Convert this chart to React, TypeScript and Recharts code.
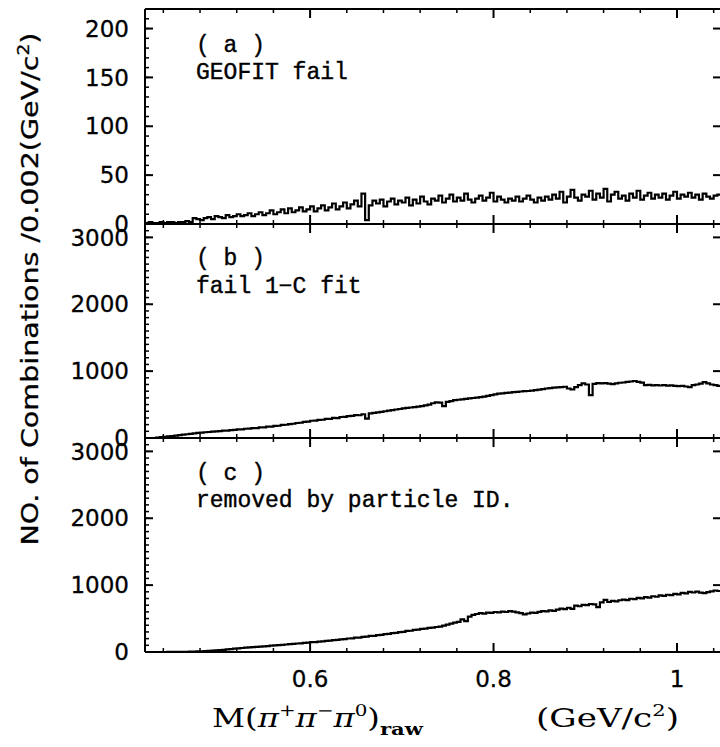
import React from 'react';
import { LineChart, Line, XAxis, YAxis } from 'recharts';

// histogram bins: 0.004 GeV/c^2 wide, left edges from 0.420
const BIN_START = 0.42;
const BIN_WIDTH = 0.004;
const X_DOMAIN: [number, number] = [0.42, 1.048];
const X_MAJOR = [0.6, 0.8, 1];
const X_MINOR = [0.44, 0.48, 0.52, 0.56, 0.64, 0.68, 0.72, 0.76, 0.84, 0.88, 0.92, 0.96, 1.04];

const TICKS_A = [0, 50, 100, 150, 200];
const TICKS_BC = [0, 1000, 2000, 3000];

// (a) GEOFIT fail
const GEOFIT_FAIL = [
  1, 2, 1, 1, 2, 1, 2, 2, 1, 2,
  2, 3, 2, 6, 5, 4, 6, 7, 5, 8,
  7, 6, 9, 7, 8, 10, 8, 9, 11, 8,
  10, 12, 9, 11, 14, 10, 12, 15, 11, 16,
  12, 14, 17, 13, 15, 18, 13, 16, 19, 14,
  17, 21, 15, 18, 22, 16, 20, 24, 18, 31,
  4, 19, 24, 21, 25, 18, 23, 26, 20, 24,
  22, 27, 19, 25, 21, 28, 23, 20, 26, 24,
  29, 22, 26, 30, 23, 27, 24, 31, 25, 22,
  26, 29, 24, 27, 32, 23, 28, 25, 22, 26,
  24, 28, 23, 26, 29, 25, 22, 27, 24, 28,
  25, 30, 26, 33, 22, 28, 35, 27, 24, 30,
  28, 34, 25, 31, 27, 36, 23, 30, 33, 26,
  29, 24, 31, 27, 34, 25, 29, 32, 26, 30,
  27, 31, 25, 29, 33, 26, 30, 28, 32, 27,
  30, 25, 31, 28, 26, 29, 30,
];

// (b) fail 1-C fit
const FAIL_1C_FIT = [
  0, 0, 0, 6, 12, 18, 25, 30, 37, 44,
  50, 56, 63, 70, 76, 80, 86, 90, 95, 99,
  104, 110, 111, 119, 121, 130, 129, 138, 139, 148,
  149, 158, 158, 170, 170, 182, 183, 195, 198, 208,
  213, 224, 228, 240, 246, 258, 260, 270, 273, 285,
  287, 300, 298, 314, 315, 328, 330, 342, 340, 355,
  290, 368, 376, 384, 392, 400, 408, 418, 426, 434,
  442, 450, 456, 462, 470, 478, 488, 498, 520, 532,
  530, 478, 540, 552, 565, 572, 578, 585, 592, 598,
  605, 612, 620, 630, 640, 652, 665, 668, 675, 680,
  686, 690, 695, 700, 703, 708, 715, 722, 730, 740,
  745, 752, 758, 762, 766, 740, 725, 760, 790, 818,
  800, 640, 810, 822, 816, 820, 812, 805, 818, 826,
  830, 838, 845, 852, 840, 828, 792, 795, 788, 792,
  785, 790, 782, 788, 780, 775, 778, 770, 760, 790,
  800, 812, 835, 818, 800, 790, 780,
];

// (c) removed by particle ID
const REMOVED_PID = [
  0, 0, 0, 0, 0, 0, 1, 1, 2, 2,
  3, 4, 5, 7, 9, 11, 14, 17, 20, 24,
  28, 33, 38, 44, 50, 55, 60, 64, 68, 72,
  76, 80, 85, 89, 94, 98, 103, 108, 112, 117,
  121, 127, 130, 137, 140, 147, 149, 156, 159, 167,
  170, 178, 181, 190, 192, 202, 204, 214, 216, 227,
  229, 240, 242, 252, 256, 268, 270, 283, 286, 298,
  302, 315, 318, 330, 334, 347, 350, 362, 364, 374,
  380, 395, 410, 425, 438, 450, 488, 462, 530, 555,
  568, 580, 574, 590, 584, 598, 592, 604, 598, 612,
  604, 592, 580, 562, 576, 590, 586, 600, 612, 606,
  622, 616, 634, 648, 640, 662, 644, 692, 684, 706,
  700, 718, 712, 670, 742, 778, 748, 764, 758, 774,
  782, 776, 796, 790, 808, 802, 820, 814, 834, 826,
  846, 838, 856, 850, 868, 862, 884, 876, 898, 890,
  904, 888, 880, 896, 908, 920, 912,
];

const minorTicks = (step: number, max: number) => {
  const out: number[] = [];
  for (let v = step; v <= max; v += step) out.push(v);
  return out;
};

// stepAfter needs one extra point at the right edge of the last bin
const toSteps = (values: number[]) => {
  const pts = values.map((n, i) => ({ m: +(BIN_START + i * BIN_WIDTH).toFixed(3), n }));
  pts.push({ m: +(BIN_START + values.length * BIN_WIDTH).toFixed(3), n: values[values.length - 1] });
  return pts;
};

const INK = '#000';
const TICK_FONT = { fontSize: 23, fontFamily: 'DejaVu Sans', fill: INK, stroke: INK, strokeWidth: 0.3 };
const FRAME = { stroke: INK, strokeWidth: 2 };
const THIN = 0.01; // mirrored axes take no layout room, but need a size > 0 to render

// inward tick mark drawn at the axis' own tick position (tickSize/tickMargin 0 puts x,y on the frame)
const mark = (side: 'top' | 'bottom' | 'left' | 'right', len: number, w: number) => (props: any) => {
  const { x, y } = props;
  const dx = side === 'left' ? len : side === 'right' ? -len : 0;
  const dy = side === 'top' ? len : side === 'bottom' ? -len : 0;
  return <line x1={x} y1={y} x2={x + dx} y2={y + dy} stroke={INK} strokeWidth={w} />;
};

interface PanelProps {
  values: number[];
  top: number;
  plotH: number;
  yMax: number;
  yTicks: number[];
  yMinor: number[];
  showX?: boolean;
}

const Panel: React.FC<PanelProps> = ({ values, top, plotH, yMax, yTicks, yMinor, showX }) => {
  const data = toSteps(values);
  const height = 10 + plotH + (showX ? 90 : 10);
  const yDomain: [number, number] = [0, yMax];
  const xProps = { dataKey: 'm', type: 'number' as const, domain: X_DOMAIN, allowDataOverflow: true, interval: 0 as const };
  const yProps = { type: 'number' as const, domain: yDomain, allowDataOverflow: true, interval: 0 as const };
  const markProps = { mirror: true, tickSize: 0, tickMargin: 0, tickLine: false };
  return (
    <div style={{ position: 'absolute', left: 0, top: top - 10 }}>
      <LineChart width={730} height={height} data={data}
        margin={{ top: 10, right: 9, bottom: showX ? 0 : 10, left: 0 }}>
        {/* frame + inward tick marks */}
        <XAxis xAxisId="b" {...xProps} {...markProps} height={THIN} ticks={X_MAJOR}
          tick={mark('bottom', 9, 2)} axisLine={FRAME} />
        <XAxis xAxisId="bm" {...xProps} {...markProps} height={THIN} ticks={X_MINOR}
          tick={mark('bottom', 4, 1.5)} axisLine={false} />
        <XAxis xAxisId="t" {...xProps} {...markProps} orientation="top" height={THIN} ticks={X_MAJOR}
          tick={mark('top', 9, 2)} axisLine={FRAME} />
        <XAxis xAxisId="tm" {...xProps} {...markProps} orientation="top" height={THIN} ticks={X_MINOR}
          tick={mark('top', 4, 1.5)} axisLine={false} />
        <YAxis yAxisId="l" {...yProps} {...markProps} width={THIN} ticks={yTicks}
          tick={mark('left', 8, 2)} axisLine={FRAME} />
        <YAxis yAxisId="lm" {...yProps} {...markProps} width={THIN} ticks={yMinor}
          tick={mark('left', 4, 1.5)} axisLine={false} />
        <YAxis yAxisId="r" {...yProps} {...markProps} orientation="right" width={THIN} ticks={yTicks}
          tick={mark('right', 8, 2)} axisLine={FRAME} />
        {/* tick labels */}
        <YAxis yAxisId="ll" {...yProps} width={145} ticks={yTicks} tickSize={0} tickMargin={16}
          tick={TICK_FONT} tickLine={false} axisLine={false} />
        {showX && (
          <XAxis xAxisId="bl" {...xProps} height={90} ticks={X_MAJOR} tickSize={0} tickMargin={19}
            tick={TICK_FONT} tickLine={false} axisLine={false} />
        )}
        <Line xAxisId="b" yAxisId="l" type="stepAfter" dataKey="n" stroke={INK} strokeWidth={2.2}
          dot={false} activeDot={false} isAnimationActive={false} />
      </LineChart>
    </div>
  );
};

const LABEL_FONT = { fontFamily: 'Liberation Mono', fontSize: 23, fill: INK, stroke: INK, strokeWidth: 0.4 };

export default function App() {
  return (
    <div style={{ position: 'absolute', left: 0, top: 0, width: 720, height: 747, overflow: 'hidden', background: '#fff' }}>
      <Panel values={GEOFIT_FAIL} top={9} plotH={215} yMax={220} yTicks={TICKS_A} yMinor={minorTicks(10, 210)} />
      <Panel values={FAIL_1C_FIT} top={224} plotH={214} yMax={3200} yTicks={TICKS_BC} yMinor={minorTicks(100, 3100)} />
      <Panel values={REMOVED_PID} top={438} plotH={214} yMax={3200} yTicks={TICKS_BC} yMinor={minorTicks(100, 3100)} showX />
      <svg width={720} height={747} style={{ position: 'absolute', left: 0, top: 0, pointerEvents: 'none' }}>
        <text {...LABEL_FONT} x={196} y={52}>( a )</text>
        <text {...LABEL_FONT} x={196} y={79}>GEOFIT fail</text>
        <text {...LABEL_FONT} x={196} y={265}>( b )</text>
        <text {...LABEL_FONT} x={196} y={293}>fail 1−C fit</text>
        <text {...LABEL_FONT} x={196} y={480}>( c )</text>
        <text {...LABEL_FONT} x={196} y={507}>removed by particle ID.</text>
        <text transform="translate(38,289) rotate(-90)" textAnchor="middle" fontFamily="DejaVu Sans"
          fontSize={23} fill={INK} stroke={INK} strokeWidth={0.3} textLength={513} lengthAdjust="spacingAndGlyphs">
          NO. of Combinations /0.002(GeV/c<tspan dy={-9} fontSize={15}>2</tspan><tspan dy={9}>)</tspan>
        </text>
        <text x={212} y={727} fontFamily="DejaVu Serif" fontSize={26} fill={INK} textLength={211}
          lengthAdjust="spacingAndGlyphs">
          M(<tspan fontStyle="italic">π</tspan><tspan dy={-11} fontSize={16}>+</tspan>
          <tspan dy={11} fontStyle="italic">π</tspan><tspan dy={-11} fontSize={16}>−</tspan>
          <tspan dy={11} fontStyle="italic">π</tspan><tspan dy={-11} fontSize={16}>0</tspan>
          <tspan dy={11}>)</tspan><tspan dy={8} fontSize={17} fontWeight="bold">raw</tspan>
        </text>
        <text x={536} y={727} fontFamily="DejaVu Serif" fontSize={26} fill={INK} textLength={143}
          lengthAdjust="spacingAndGlyphs">
          (GeV/c<tspan dy={-11} fontSize={16}>2</tspan><tspan dy={11}>)</tspan>
        </text>
      </svg>
    </div>
  );
}
